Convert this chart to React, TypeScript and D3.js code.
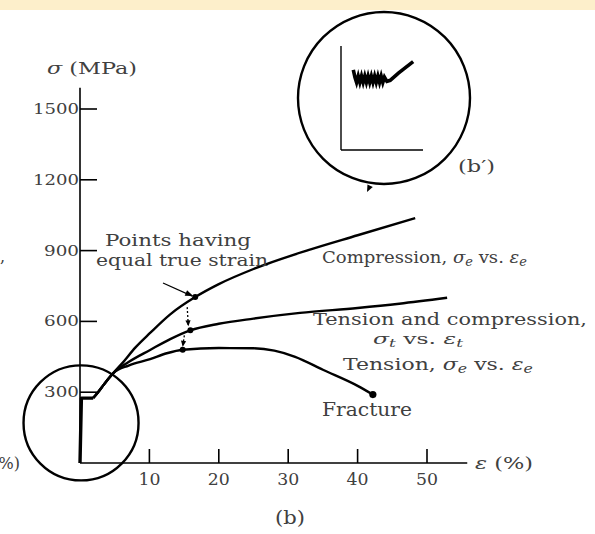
import React from "react";
import * as d3 from "d3";

// Stress–strain curves for a ductile steel: engineering tension, engineering
// compression and the common true stress–true strain curve.
const sigmaTicks = [300, 600, 900, 1200, 1500];
const strainTicks = [10, 20, 30, 40, 50];

// [strain %, stress MPa]
const elasticAndYield: [number, number][] = [
  [0, 0],
  [0.2, 275],
  [1.9, 275],
];
const compressionEng: [number, number][] = [
  [1.9, 275], [2.6, 300], [3.5, 335], [4.8, 381], [6, 420], [8, 490],
  [10.1, 551], [13, 630], [16.6, 703], [20, 758], [25, 822], [33, 903],
  [40, 965], [48.3, 1038],
];
const trueCurve: [number, number][] = [
  [1.9, 275], [2.6, 300], [3.5, 335], [4.8, 381], [7, 428], [10.1, 479],
  [13, 525], [15.9, 562], [20, 590], [25, 612], [31.7, 636], [40, 657],
  [46, 675], [52.9, 700],
];
const tensionEng: [number, number][] = [
  [1.9, 275], [2.6, 300], [3.5, 335], [4.8, 381], [7, 413], [10.1, 440],
  [12.5, 465], [14.8, 480], [20, 487], [25, 486], [28, 476], [31, 450],
  [35, 395], [40, 327], [42.2, 290],
];
// points of equal true strain on each curve (compression, true, tension)
const equalStrainPoints: [number, number][] = [
  [16.6, 703],
  [15.9, 562],
  [14.8, 480],
];
const fracturePoint: [number, number] = [42.2, 290];

// detail view of the yield plateau, in local units (0..1)
const insetYield: [number, number][] = [
  [0.15, 0.77], [0.17, 0.7], [0.19, 0.65], [0.21, 0.71], [0.23, 0.65],
  [0.25, 0.71], [0.27, 0.65], [0.29, 0.71], [0.31, 0.65], [0.33, 0.71],
  [0.35, 0.65], [0.37, 0.71], [0.39, 0.65], [0.41, 0.71], [0.43, 0.65],
  [0.45, 0.71], [0.47, 0.65], [0.49, 0.71], [0.51, 0.65], [0.53, 0.7],
  [0.56, 0.66], [0.6, 0.67], [0.7, 0.74], [0.88, 0.85],
];

const W = 595;
const H = 534;
const TEXT = "#404040";
const FONT = "'DejaVu Serif', 'Liberation Serif', serif";

const x = d3.scaleLinear().domain([0, 50]).range([80, 427]);
const y = d3.scaleLinear().domain([0, 1500]).range([463, 109]);

const curve = d3
  .line<[number, number]>()
  .x((d) => x(d[0]))
  .y((d) => y(d[1]))
  .curve(d3.curveMonotoneX);
const straight = d3
  .line<[number, number]>()
  .x((d) => x(d[0]))
  .y((d) => y(d[1]));

function arrowHead(x1: number, y1: number, x2: number, y2: number, len = 7, half = 3) {
  const a = Math.atan2(y2 - y1, x2 - x1);
  const bx = x2 - len * Math.cos(a);
  const by = y2 - len * Math.sin(a);
  const px = -Math.sin(a) * half;
  const py = Math.cos(a) * half;
  return `${x2},${y2} ${bx + px},${by + py} ${bx - px},${by - py}`;
}

type LabelProps = {
  x0: number;
  x1: number;
  base: number;
  size: number;
  children: React.ReactNode;
};
function Label({ x0, x1, base, size, children }: LabelProps) {
  return (
    <text
      x={x0}
      y={base}
      textLength={x1 - x0}
      lengthAdjust="spacingAndGlyphs"
      fontSize={size}
      fill={TEXT}
      fontFamily={FONT}
    >
      {children}
    </text>
  );
}

const Sub = ({ s }: { s: string }) => (
  <>
    <tspan fontStyle="italic" fontSize="0.72em" dy={3}>
      {s}
    </tspan>
    <tspan dy={-3}> </tspan>
  </>
);

export default function App() {
  const [top, mid, bot] = equalStrainPoints.map(([e, s]) => [x(e), y(s)]);

  // inset geometry
  const ic = { cx: 384, cy: 98, r: 86 };
  const ix = d3.scaleLinear().domain([0, 1]).range([341, 423]);
  const iy = d3.scaleLinear().domain([0, 1]).range([150, 46]);
  const insetLine = d3
    .line<[number, number]>()
    .x((d) => ix(d[0]))
    .y((d) => iy(d[1]));

  return (
    <svg
      width={W}
      height={H}
      viewBox={`0 0 ${W} ${H}`}
      style={{ position: "absolute", left: 0, top: 0, background: "#fff" }}
    >
      <rect x={0} y={0} width={W} height={H} fill="#fff" />
      <rect x={0} y={0} width={W} height={10} fill="#fdefcb" />

      {/* fragments of the neighbouring panel */}
      <text x={0} y={262} fontSize={16} fill={TEXT} fontFamily={FONT}>,</text>
      <text x={20} y={469} textAnchor="end" fontSize={16} fill={TEXT} fontFamily={FONT}>%)</text>

      {/* axes */}
      <line x1={x(0)} y1={y(0)} x2={x(0)} y2={y(1590)} stroke="#000" strokeWidth={1.6} />
      <line x1={x(0)} y1={y(0)} x2={x(55.8)} y2={y(0)} stroke="#000" strokeWidth={1.6} />
      {sigmaTicks.map((t) => (
        <g key={t}>
          <line x1={x(0)} x2={x(0) + 17} y1={y(t)} y2={y(t)} stroke="#000" strokeWidth={1.6} />
          <text
            x={x(0) - 1}
            y={y(t) + 5}
            textAnchor="end"
            fontSize={15}
            fill={TEXT}
            fontFamily={FONT}
            textLength={t >= 1000 ? 46 : 35}
            lengthAdjust="spacingAndGlyphs"
          >
            {t}
          </text>
        </g>
      ))}
      {strainTicks.map((t) => (
        <g key={t}>
          <line x1={x(t)} x2={x(t)} y1={y(0)} y2={y(0) - 14} stroke="#000" strokeWidth={1.6} />
          <text
            x={x(t)}
            y={y(0) + 22}
            textAnchor="middle"
            fontSize={16}
            fill={TEXT}
            fontFamily={FONT}
            textLength={22}
            lengthAdjust="spacingAndGlyphs"
          >
            {t}
          </text>
        </g>
      ))}

      <Label x0={47} x1={137} base={74} size={17}>
        <tspan fontStyle="italic">σ</tspan> (MPa)
      </Label>
      <Label x0={475} x1={533} base={469} size={17}>
        <tspan fontStyle="italic">ε</tspan> (%)
      </Label>
      <Label x0={275} x1={305} base={524} size={18}>
        (b)
      </Label>

      {/* curves */}
      <path d={straight(elasticAndYield) ?? ""} fill="none" stroke="#000" strokeWidth={3.4} strokeLinejoin="round" />
      <path d={curve(compressionEng) ?? ""} fill="none" stroke="#000" strokeWidth={2.4} />
      <path d={curve(trueCurve) ?? ""} fill="none" stroke="#000" strokeWidth={2.4} />
      <path d={curve(tensionEng) ?? ""} fill="none" stroke="#000" strokeWidth={2.4} />

      {/* equal true strain points */}
      {[top, mid, bot].map(([px, py], i) => (
        <circle key={i} cx={px} cy={py} r={3} fill="#000" />
      ))}
      <line x1={top[0] - 8} y1={top[1] + 10} x2={mid[0] - 2} y2={mid[1] - 4} stroke="#000" strokeWidth={1.3} strokeDasharray="2,2" />
      <polygon points={arrowHead(top[0] - 8, top[1] + 10, mid[0] - 2, mid[1] - 4, 6, 2.6)} fill="#000" />
      <line x1={mid[0] - 6} y1={mid[1] + 5} x2={bot[0]} y2={bot[1] - 3} stroke="#000" strokeWidth={1.3} strokeDasharray="2,2" />
      <polygon points={arrowHead(mid[0] - 6, mid[1] + 5, bot[0], bot[1] - 3, 6, 2.6)} fill="#000" />

      {/* fracture */}
      <circle cx={x(fracturePoint[0])} cy={y(fracturePoint[1])} r={3.6} fill="#000" />

      {/* pointer to the equal-strain points */}
      <line x1={163} y1={283} x2={top[0] - 3} y2={top[1] - 1} stroke="#000" strokeWidth={1.2} />
      <polygon points={arrowHead(163, 283, top[0] - 2, top[1] - 1, 8, 3)} fill="#000" />

      {/* labels */}
      <Label x0={105} x1={251} base={246} size={16}>Points having</Label>
      <Label x0={96} x1={268} base={266} size={16}>equal true strain</Label>
      <Label x0={322} x1={527} base={263} size={17}>
        Compression, <tspan fontStyle="italic">σ</tspan>
        <Sub s="e" />vs. <tspan fontStyle="italic">ε</tspan>
        <Sub s="e" />
      </Label>
      <Label x0={313} x1={587} base={325} size={17}>Tension and compression,</Label>
      <Label x0={373} x1={463} base={344} size={14}>
        <tspan fontStyle="italic">σ</tspan>
        <Sub s="t" />vs. <tspan fontStyle="italic">ε</tspan>
        <Sub s="t" />
      </Label>
      <Label x0={343} x1={533} base={370} size={17}>
        Tension, <tspan fontStyle="italic">σ</tspan>
        <Sub s="e" />vs. <tspan fontStyle="italic">ε</tspan>
        <Sub s="e" />
      </Label>
      <Label x0={322} x1={412} base={416} size={18}>Fracture</Label>

      {/* magnified region around the origin */}
      <circle cx={x(0.15)} cy={y(170)} r={57.5} fill="none" stroke="#000" strokeWidth={2.4} />

      {/* magnified view of the yield plateau */}
      <circle cx={ic.cx} cy={ic.cy} r={ic.r} fill="none" stroke="#000" strokeWidth={2.4} />
      <line x1={ix(0)} y1={iy(0)} x2={ix(0)} y2={iy(1)} stroke="#000" strokeWidth={1.4} />
      <line x1={ix(0)} y1={iy(0)} x2={ix(1)} y2={iy(0)} stroke="#000" strokeWidth={1.4} />
      <path d={insetLine(insetYield) ?? ""} fill="none" stroke="#000" strokeWidth={3.6} strokeLinejoin="miter" />
      <polygon points={arrowHead(372, 182, 367, 192, 7, 3)} fill="#000" />
      <text x={458} y={172} fontSize={17} fill={TEXT} fontFamily={FONT} textLength={37} lengthAdjust="spacingAndGlyphs">
        (b′)
      </text>
    </svg>
  );
}
